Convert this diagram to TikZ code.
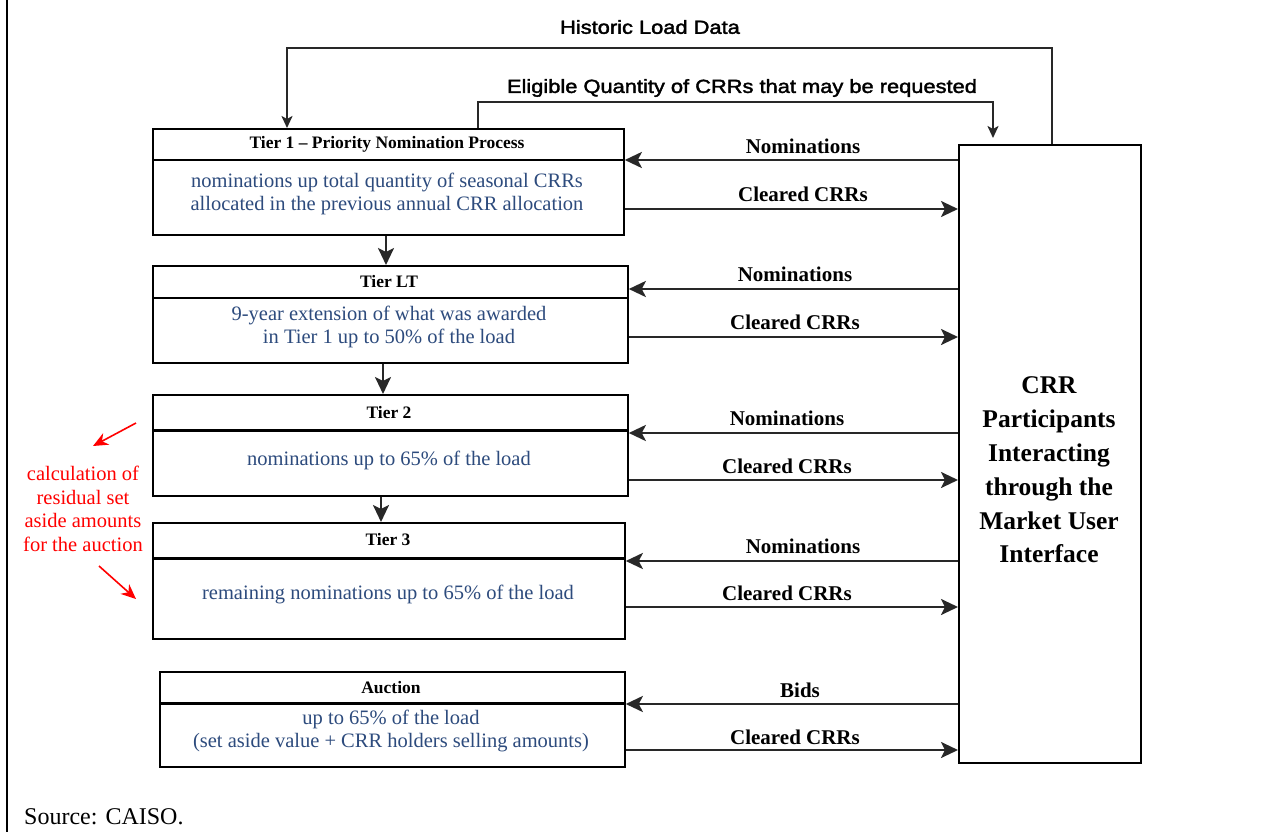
\documentclass[tikz,border=0pt]{standalone}
\usepackage{fontspec}
\setmainfont{Liberation Serif}
\newfontfamily\labelsans[FakeStretch=1.15,FakeBold=2]{Liberation Sans}
\usetikzlibrary{arrows.meta}
\definecolor{bodyblue}{RGB}{45,75,125}
\definecolor{linegray}{RGB}{40,40,40}

\begin{document}
\begin{tikzpicture}[x=1pt,y=-1pt,
  tierbox/.style={draw=black, line width=1.8pt, rectangle, inner sep=0pt, anchor=north west},
  divider/.style={draw=black, line width=2.2pt},
  tiertitle/.style={font=\fontsize{17.5}{19}\selectfont\bfseries, inner sep=0pt},
  tierbody/.style={font=\fontsize{20.5}{22.5}\selectfont, text=bodyblue, align=center, inner sep=0pt},
  flowlabel/.style={font=\fontsize{21}{24}\selectfont\bfseries, inner sep=0pt},
  flow/.style={draw=linegray, line width=2.6pt, -{Stealth[length=17pt,width=16pt,inset=4pt]}},
  toplabel/.style={font=\labelsans\fontsize{19}{22}\selectfont, inner sep=0pt},
  crrtext/.style={font=\fontsize{25.5}{33.8}\selectfont\bfseries, align=center, inner sep=0pt},
  note/.style={font=\fontsize{20.5}{23.5}\selectfont, text=red, align=center, inner sep=0pt},
  pointer/.style={draw=red, line width=1.6pt, -{Stealth[length=15pt,width=13pt]}}
]
\useasboundingbox (0,0) rectangle (1285,832);
\fill[white] (0,0) rectangle (1285,832);
% page frame rule on the left
\draw[line width=2pt] (7,0) -- (7,832);

% participants box
\node[tierbox, minimum width=182pt, minimum height=618pt] (crr) at (958,144) {};
\node[crrtext] (crrt) at (1049,470) {CRR\\Participants\\Interacting\\through the\\Market User\\Interface};

% tier boxes
\node[tierbox, minimum width=471pt, minimum height=106pt] (t1) at (152,128) {};
\draw[divider] (t1.west |- 0,160) -- (t1.east |- 0,160);
\node[tiertitle] (t1h) at (387,144) {Tier 1 – Priority Nomination Process};
\node[tierbody] (t1b) at (387,194) {nominations up total quantity of seasonal CRRs\\allocated in the previous annual CRR allocation};

\node[tierbox, minimum width=475pt, minimum height=97pt] (tlt) at (152,265) {};
\draw[divider] (tlt.west |- 0,298) -- (tlt.east |- 0,298);
\node[tiertitle] (tlth) at (389,282) {Tier LT};
\node[tierbody] (tltb) at (389,327) {9-year extension of what was awarded\\in Tier 1 up to 50\% of the load};

\node[tierbox, minimum width=475pt, minimum height=101pt] (t2) at (152,394) {};
\draw[divider, line width=3pt] (t2.west |- 0,430) -- (t2.east |- 0,430);
\node[tiertitle] (t2h) at (389,413) {Tier 2};
\node[tierbody] (t2b) at (389,460) {nominations up to 65\% of the load};

\node[tierbox, minimum width=472pt, minimum height=116pt] (t3) at (152,522) {};
\draw[divider, line width=3pt] (t3.west |- 0,558) -- (t3.east |- 0,558);
\node[tiertitle] (t3h) at (388,540) {Tier 3};
\node[tierbody] (t3b) at (388,594) {remaining nominations up to 65\% of the load};

\node[tierbox, minimum width=465pt, minimum height=95pt] (auc) at (159,671) {};
\draw[divider, line width=3pt] (auc.west |- 0,703) -- (auc.east |- 0,703);
\node[tiertitle] (auch) at (391,688) {Auction};
\node[tierbody] (aucb) at (391,731) {up to 65\% of the load\\(set aside value + CRR holders selling amounts)};

% sequence between tiers
\draw[flow] (t1.south -| 386,0) -- (tlt.north -| 386,0);
\draw[flow] (tlt.south -| 383,0) -- (t2.north -| 383,0);
\draw[flow] (t2.south -| 381,0) -- (t3.north -| 381,0);

% feedback loops along the top
\node[toplabel] (hist) at (650,27) {Historic Load Data};
\draw[flow, line width=2.2pt, -{Stealth[length=12pt,width=11pt,inset=3pt]}] (crr.north -| 1052,0) |- (287,48) -- (t1.north -| 287,0);
\node[toplabel] (elig) at (742,88) {Eligible Quantity of CRRs that may be requested};
\draw[flow, line width=2.2pt, -{Stealth[length=12pt,width=11pt,inset=3pt]}, shorten >=6pt] (t1.north -| 478,0) |- (993,102) -- (crr.north -| 993,0);

% exchanges with the participants
\draw[flow] (crr.west |- 0,160) -- (t1.east |- 0,160);
\node[flowlabel] (n1) at (803,146) {Nominations};
\draw[flow] (t1.east |- 0,209) -- (crr.west |- 0,209);
\node[flowlabel] (c1) at (803,194) {Cleared CRRs};

\draw[flow] (crr.west |- 0,289) -- (tlt.east |- 0,289);
\node[flowlabel] (n2) at (795,274) {Nominations};
\draw[flow] (tlt.east |- 0,337) -- (crr.west |- 0,337);
\node[flowlabel] (c2) at (795,322) {Cleared CRRs};

\draw[flow] (crr.west |- 0,433) -- (t2.east |- 0,433);
\node[flowlabel] (n3) at (787,418) {Nominations};
\draw[flow] (t2.east |- 0,480) -- (crr.west |- 0,480);
\node[flowlabel] (c3) at (787,466) {Cleared CRRs};

\draw[flow] (crr.west |- 0,561) -- (t3.east |- 0,561);
\node[flowlabel] (n4) at (803,546) {Nominations};
\draw[flow] (t3.east |- 0,607) -- (crr.west |- 0,607);
\node[flowlabel] (c4) at (787,593) {Cleared CRRs};

\draw[flow] (crr.west |- 0,704) -- (auc.east |- 0,704);
\node[flowlabel] (b5) at (800,690) {Bids};
\draw[flow] (auc.east |- 0,750) -- (crr.west |- 0,750);
\node[flowlabel] (c5) at (795,737) {Cleared CRRs};

% side note
\node[note] (calc) at (83,509) {calculation of\\residual set\\aside amounts\\for the auction};
\coordinate (p1s) at (136,423);
\coordinate (p1e) at (93,446);
\coordinate (p2s) at (99,566);
\coordinate (p2e) at (136,599);
\draw[pointer] (p1s) -- (p1e);
\draw[pointer] (p2s) -- (p2e);

% source line
\node[font=\fontsize{24}{28}\selectfont, anchor=west, inner sep=0pt] (src) at (24,817) {Source: CAISO.};
\end{tikzpicture}
\end{document}
